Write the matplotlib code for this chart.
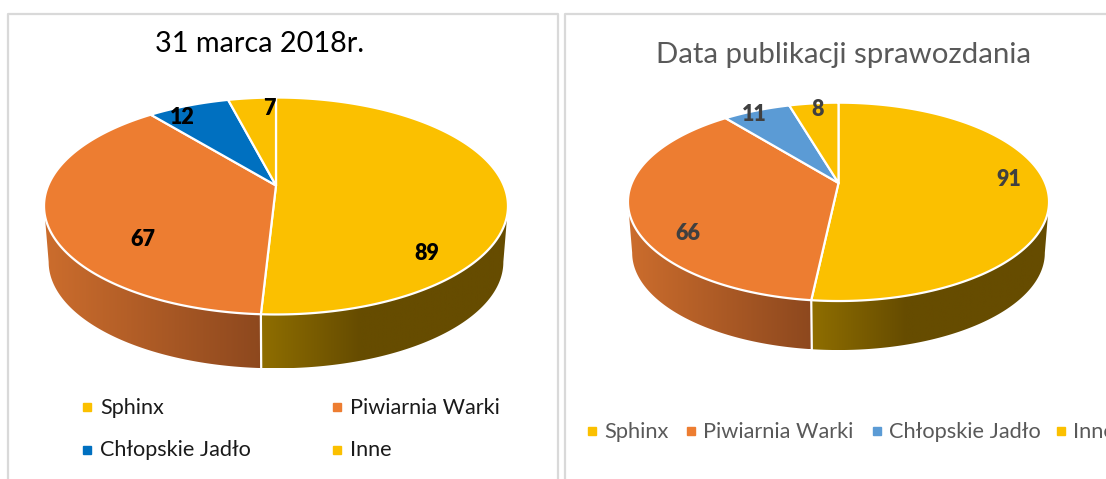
import numpy as np
import matplotlib
matplotlib.use('Agg')
import matplotlib.pyplot as plt
from matplotlib.colors import LinearSegmentedColormap
from matplotlib.patches import Polygon

categories = ['Sphinx', 'Piwiarnia Warki', 'Chłopskie Jadło', 'Inne']
values_left = [89, 67, 12, 7]
values_right = [91, 66, 11, 8]
title_left = '31 marca 2018r.'
title_right = 'Data publikacji sprawozdania'

colors_left = ['#FBC000', '#ED7D31', '#0070C0', '#FBC000']
colors_right = ['#FBC000', '#ED7D31', '#5B9BD5', '#FBC000']
wall_stops = {0: [(0, '#8F6E00'), (0.4, '#664C00'), (1, '#664C00')],
              1: [(0, '#CC6D2D'), (1, '#8D481E')]}

plt.rcParams['font.family'] = ['Lato', 'DejaVu Sans']


def project(theta, pie):
    # circle seen in perspective, theta runs clockwise from the back of the pie
    u, v = np.sin(theta), np.cos(theta)
    w = 1 + pie['k'] * v
    return pie['cx'] + pie['A'] * u / w, pie['cy'] - pie['B'] * v / w


def project_low(theta, pie):
    x, y = project(theta, pie)
    mid = pie['cy'] + pie['B'] * pie['k'] / (1 - pie['k'] ** 2)
    return pie['cx'] + (x - pie['cx']) * pie['s'], mid + (y - mid) * pie['s'] + pie['depth']


def draw_pie(ax, values, colors, pie):
    angles = np.concatenate([[0], np.cumsum(values)]) / sum(values) * 2 * np.pi
    vis = np.arcsin(pie['k'])
    vis_from, vis_to = np.pi / 2 + vis, 3 * np.pi / 2 - vis

    # side walls
    for i in range(len(values)):
        a = max(angles[i], vis_from)
        b = min(angles[i + 1], vis_to)
        if a >= b:
            continue
        t = np.linspace(a, b, 200)
        xt, yt = project(t, pie)
        xb, yb = project_low(t, pie)
        pts = np.column_stack([np.concatenate([xt, xb[::-1]]), np.concatenate([yt, yb[::-1]])])
        poly = Polygon(pts, closed=True, fc='none', ec='none', zorder=1)
        ax.add_patch(poly)
        cmap = LinearSegmentedColormap.from_list('wall', wall_stops[i])
        grad = np.linspace(0, 1, 256).reshape(1, -1)
        extent = [pts[:, 0].min(), pts[:, 0].max(), pts[:, 1].max(), pts[:, 1].min()]
        im = ax.imshow(grad, cmap=cmap, extent=extent, aspect='auto', zorder=1)
        im.set_clip_path(poly)

    # seam between the walls
    for ang in angles[1:-1]:
        if vis_from < ang < vis_to:
            xt, yt = project(ang, pie)
            xb, yb = project_low(ang, pie)
            ax.plot([xt, xb], [yt, yb], color='white', lw=1.6, zorder=2)

    # top face
    for i in range(len(values)):
        t = np.linspace(angles[i], angles[i + 1], 200)
        x, y = project(t, pie)
        pts = np.column_stack([np.r_[pie['cx'], x], np.r_[pie['cy'], y]])
        ax.add_patch(Polygon(pts, closed=True, fc=colors[i], ec='white', lw=1.6,
                             joinstyle='round', zorder=3))


def draw_legend(ax, marks, spots, y, color, size):
    for (mx, tx, row), name, c in zip(spots, categories, marks):
        ax.plot([mx], [y[row]], marker='s', ms=5.6, mfc=c, mec=c, ls='none', zorder=5)
        ax.text(tx, y[row] + 0.5, name, color=color, fontsize=size, va='center', ha='left', zorder=5)


fig = plt.figure(figsize=(11.06, 4.79), dpi=100, facecolor='white')
ax = fig.add_axes([0, 0, 1, 1])
ax.axis('off')

# panel frames, open at the bottom of the crop
ax.plot([8, 8, 558, 558], [480, 14, 14, 480], color='#D9D9D9', lw=1.6)
ax.plot([565, 565, 1110], [480, 14, 14], color='#D9D9D9', lw=1.6)

pie_left = {'cx': 276, 'cy': 185.5, 'A': 227.8, 'B': 104.6, 'k': 0.189, 's': 0.98, 'depth': 56}
pie_right = {'cx': 838.5, 'cy': 183, 'A': 206.7, 'B': 95.6, 'k': 0.19, 's': 0.98, 'depth': 51}
draw_pie(ax, values_left, colors_left, pie_left)
draw_pie(ax, values_right, colors_right, pie_right)

ax.text(259.5, 44, title_left, color='black', fontsize=20.8, ha='center', va='center')
ax.text(843, 55, title_right, color='#595959', fontsize=21.2, ha='center', va='center')

label_pos_left = [(427, 253), (143, 239), (182, 117), (269, 108)]
label_pos_right = [(1009, 180), (688, 233), (754, 114), (818, 109)]
for v, (x, y) in zip(values_left, label_pos_left):
    ax.text(x, y, str(v), color='black', fontsize=15.5, fontweight='heavy', ha='center', va='center', zorder=6)
for v, (x, y) in zip(values_right, label_pos_right):
    ax.text(x, y, str(v), color='#404040', fontsize=15.5, fontweight='heavy', ha='center', va='center', zorder=6)

draw_legend(ax, colors_left, [(87, 100, 0), (337, 350, 0), (87, 100, 1), (337, 350, 1)], [407, 450], '#1A1A1A', 15.6)
draw_legend(ax, colors_right, [(592, 604, 0), (691, 703, 0), (877, 889, 0), (1061, 1073, 0)], [431], '#595959', 15.7)

ax.set_xlim(0, 1106)
ax.set_ylim(479, 0)
fig.savefig('out.png', dpi=100)
